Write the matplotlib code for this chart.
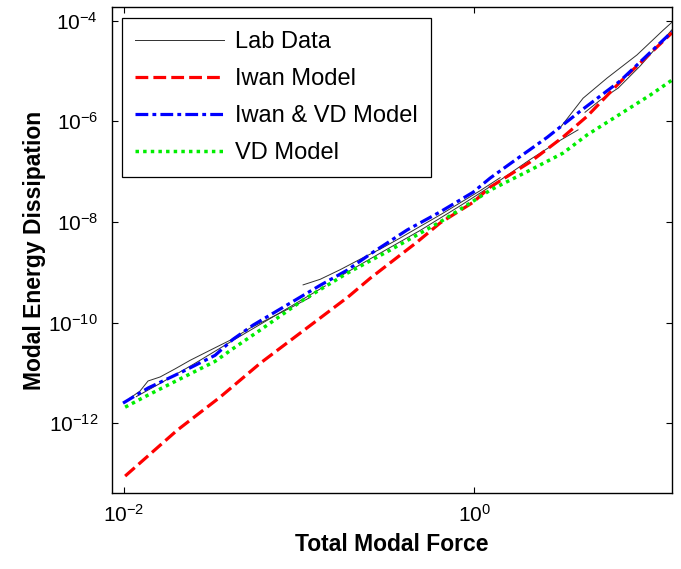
import numpy as np
import matplotlib
matplotlib.use("Agg")
import matplotlib.pyplot as plt

plt.rcParams['font.family'] = ['Liberation Sans', 'DejaVu Sans']
plt.rcParams['mathtext.fontset'] = 'custom'
plt.rcParams['mathtext.rm'] = 'Liberation Sans'
plt.rcParams['mathtext.default'] = 'regular'

# ---- data (log10 values) ----
# Lab data: several test segments
lab1_logF = [-1.966, -1.909, -1.863, -1.794, -1.709, -1.623, -1.509, -1.394, -1.28, -1.166, -1.051, -0.937]
lab1_logE = [-11.50, -11.36, -11.16, -11.08, -10.92, -10.75, -10.55, -10.35, -10.11, -9.91, -9.71, -9.50]
lab1b_logF = [-1.93, -1.8, -1.6, -1.4, -1.2, -1.0, -0.85]
lab1b_logE = [-11.47, -11.22, -10.82, -10.40, -9.99, -9.58, -9.27]
lab2_logF = [-0.977, -0.88, -0.766, -0.651, -0.537, -0.423, -0.309, -0.194, -0.08, 0.034, 0.149]
lab2_logE = [-9.25, -9.14, -8.95, -8.74, -8.54, -8.32, -8.09, -7.86, -7.62, -7.38, -7.12]
lab3_logF = [-0.766, -0.537, -0.309, -0.08, 0.149, 0.32, 0.491, 0.594]
lab3_logE = [-9.08, -8.62, -8.17, -7.68, -7.17, -6.76, -6.38, -6.17]
lab4_logF = [0.491, 0.623, 0.760, 0.931, 1.080, 1.131]
lab4_logE = [-6.13, -5.54, -5.14, -4.68, -4.19, -4.03]
lab5_logF = [0.634, 0.72, 0.823, 0.949, 1.131]
lab5_logE = [-5.82, -5.58, -5.34, -4.90, -4.18]

iwan_logF = [-1.994, -1.697, -1.451, -1.223, -1.109, -0.88, -0.72, -0.594, -0.326, -0.194, -0.006,
             0.091, 0.32, 0.509, 0.646, 0.834, 1.131]
iwan_logE = [-13.05, -12.14, -11.48, -10.81, -10.51, -9.91, -9.49, -9.12, -8.40, -8.02, -7.61,
             -7.31, -6.81, -6.31, -5.90, -5.22, -4.24]

iwanvd_logF = [-2.006, -1.863, -1.669, -1.48, -1.377, -1.263, -1.069, -0.88, -0.726, -0.577, -0.383,
               -0.194, -0.006, 0.091, 0.223, 0.417, 0.606, 0.834, 1.131]
iwanvd_logE = [-11.60, -11.30, -10.98, -10.65, -10.33, -10.05, -9.65, -9.26, -8.96, -8.60, -8.16,
               -7.80, -7.41, -7.13, -6.80, -6.32, -5.80, -5.20, -4.22]

vd_logF = [-1.994, -1.863, -1.669, -1.48, -1.383, -1.223, -0.977, -0.726, -0.48, -0.194, 0.034,
           0.091, 0.32, 0.509, 0.646, 0.851, 1.006, 1.131]
vd_logE = [-11.68, -11.44, -11.10, -10.77, -10.53, -10.15, -9.55, -9.02, -8.56, -8.00, -7.50,
           -7.37, -6.97, -6.63, -6.27, -5.82, -5.48, -5.18]

labels = ["Lab Data", "Iwan Model", "Iwan & VD Model", "VD Model"]
xticks = [1e-2, 1e0]
xticklabels = [r'$10^{-2}$', r'$10^{0}$']
yticks = [1e-12, 1e-10, 1e-8, 1e-6, 1e-4]
yticklabels = [r'$10^{-12}$', r'$10^{-10}$', r'$10^{-8}$', r'$10^{-6}$', r'$10^{-4}$']

def p10(a):
    return 10.0 ** np.asarray(a)

fig = plt.figure(figsize=(6.81, 5.69), dpi=100)
ax = fig.add_axes([112/681, 76/569, 560/681, 486/569])

lab_color = '#303030'
lab_segs = [(lab1_logF, lab1_logE), (lab1b_logF, lab1b_logE), (lab2_logF, lab2_logE),
            (lab3_logF, lab3_logE), (lab4_logF, lab4_logE), (lab5_logF, lab5_logE)]
for i, (f, e) in enumerate(lab_segs):
    ax.plot(p10(f), p10(e), color=lab_color, lw=0.7, label=labels[0] if i == 0 else None)

ax.plot(p10(iwan_logF), p10(iwan_logE), color='#ff0000', lw=2.3, linestyle=(0, (4, 1.6)), label=labels[1])
ax.plot(p10(iwanvd_logF), p10(iwanvd_logE), color='#0000ff', lw=2.3, linestyle=(0, (4, 1.3, 1.2, 1.3)), label=labels[2])
ax.plot(p10(vd_logF), p10(vd_logE), color='#00ee00', lw=2.5, linestyle=(0, (1.0, 1.2)), label=labels[3])

ax.set_xscale('log')
ax.set_yscale('log')
ax.set_xlim(10 ** -2.069, 10 ** 1.131)
ax.set_ylim(10 ** -13.386, 10 ** -3.728)

ax.xaxis.set_major_locator(matplotlib.ticker.FixedLocator(xticks))
ax.yaxis.set_major_locator(matplotlib.ticker.FixedLocator(yticks))
ax.xaxis.set_minor_locator(matplotlib.ticker.NullLocator())
ax.yaxis.set_minor_locator(matplotlib.ticker.NullLocator())
ax.set_xticklabels(xticklabels)
ax.set_yticklabels(yticklabels)
ax.tick_params(which='both', direction='in', length=4, width=0.8, top=True, right=True,
               labelsize=15)
ax.tick_params(axis='x', pad=8)
ax.tick_params(axis='y', pad=10)
for s in ax.spines.values():
    s.set_linewidth(1.0)
    s.set_color('black')

ax.set_xlabel("Total Modal Force", fontsize=16.5, fontweight='bold')
ax.set_ylabel("Modal Energy Dissipation", fontsize=16.5, fontweight='bold')
ax.xaxis.set_label_coords(0.5, -0.082)
ax.yaxis.set_label_coords(-0.118, 0.5)

leg = ax.legend(loc='upper left', bbox_to_anchor=(0.0179, 0.977), borderaxespad=0,
                fontsize=17, fancybox=False, framealpha=1, edgecolor='black',
                handlelength=3.77, handletextpad=0.47, labelspacing=0.63, borderpad=0.55)
leg.get_frame().set_linewidth(0.9)

fig.savefig("out.png", dpi=100)
